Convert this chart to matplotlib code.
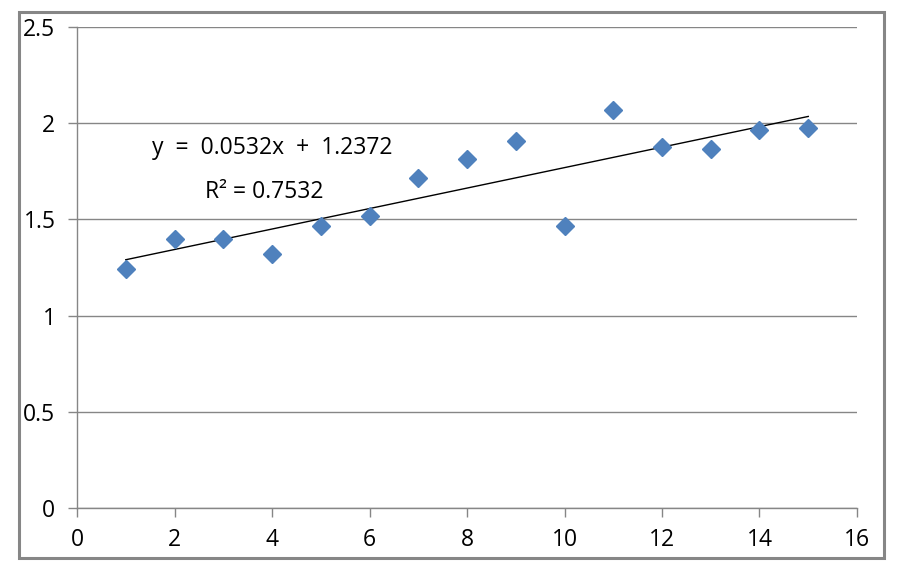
import numpy as np
import matplotlib
matplotlib.use('Agg')
import matplotlib.pyplot as plt
from matplotlib.patches import Rectangle

plt.rcParams['font.family'] = ['Open Sans', 'DejaVu Sans']

x = [1, 2, 3, 4, 5, 6, 7, 8, 9, 10, 11, 12, 13, 14, 15]
y = [1.24, 1.40, 1.40, 1.32, 1.465, 1.52, 1.715, 1.815, 1.91, 1.465, 2.07, 1.875, 1.865, 1.965, 1.975]
slope = 0.0532
intercept = 1.2372
r2 = 0.7532

GRAY = '#868686'
FS = 16.5

fig = plt.figure(figsize=(9.04, 5.71), dpi=100)
ax = fig.add_axes([0.0852, 0.1103, 0.8628, 0.8424])

ax.set_xlim(0, 16)
ax.set_ylim(0, 2.5)
ax.set_xticks(np.arange(0, 17, 2))
ax.set_yticks(np.arange(0, 2.51, 0.5))
ax.set_yticklabels(['0', '0.5', '1', '1.5', '2', '2.5'])
ax.yaxis.grid(True, color=GRAY, linewidth=1.0)
ax.set_axisbelow(True)

for side in ['top', 'right']:
    ax.spines[side].set_visible(False)
for side in ['left', 'bottom']:
    ax.spines[side].set_color(GRAY)
    ax.spines[side].set_linewidth(1.0)
ax.tick_params(axis='both', colors=GRAY, length=6.5, width=1.0,
               labelcolor='black', labelsize=FS)
ax.tick_params(axis='y', pad=9)
ax.tick_params(axis='x', pad=8)

# trendline
xt = np.array([x[0], x[-1]])
ax.plot(xt, slope * xt + intercept, color='black', linewidth=1.0, zorder=2)

ax.plot(x, y, linestyle='none', marker='D', markersize=9.5,
        color='#4F81BD', markeredgecolor='#4F81BD', zorder=3)

ax.text(4.0, 1.871, 'y  =  %.4fx  +  %.4f' % (slope, intercept),
        ha='center', va='center', fontsize=FS)
ax.text(3.85, 1.642, 'R\u00b2 = %.4f' % r2, ha='center', va='center', fontsize=FS)

fig.patches.append(Rectangle((19 / 904, 1 - 558 / 571), 865 / 904, 546 / 571,
                             transform=fig.transFigure, fill=False,
                             edgecolor=GRAY, linewidth=2.2))

fig.savefig('out.png', dpi=100)
plt.close(fig)
